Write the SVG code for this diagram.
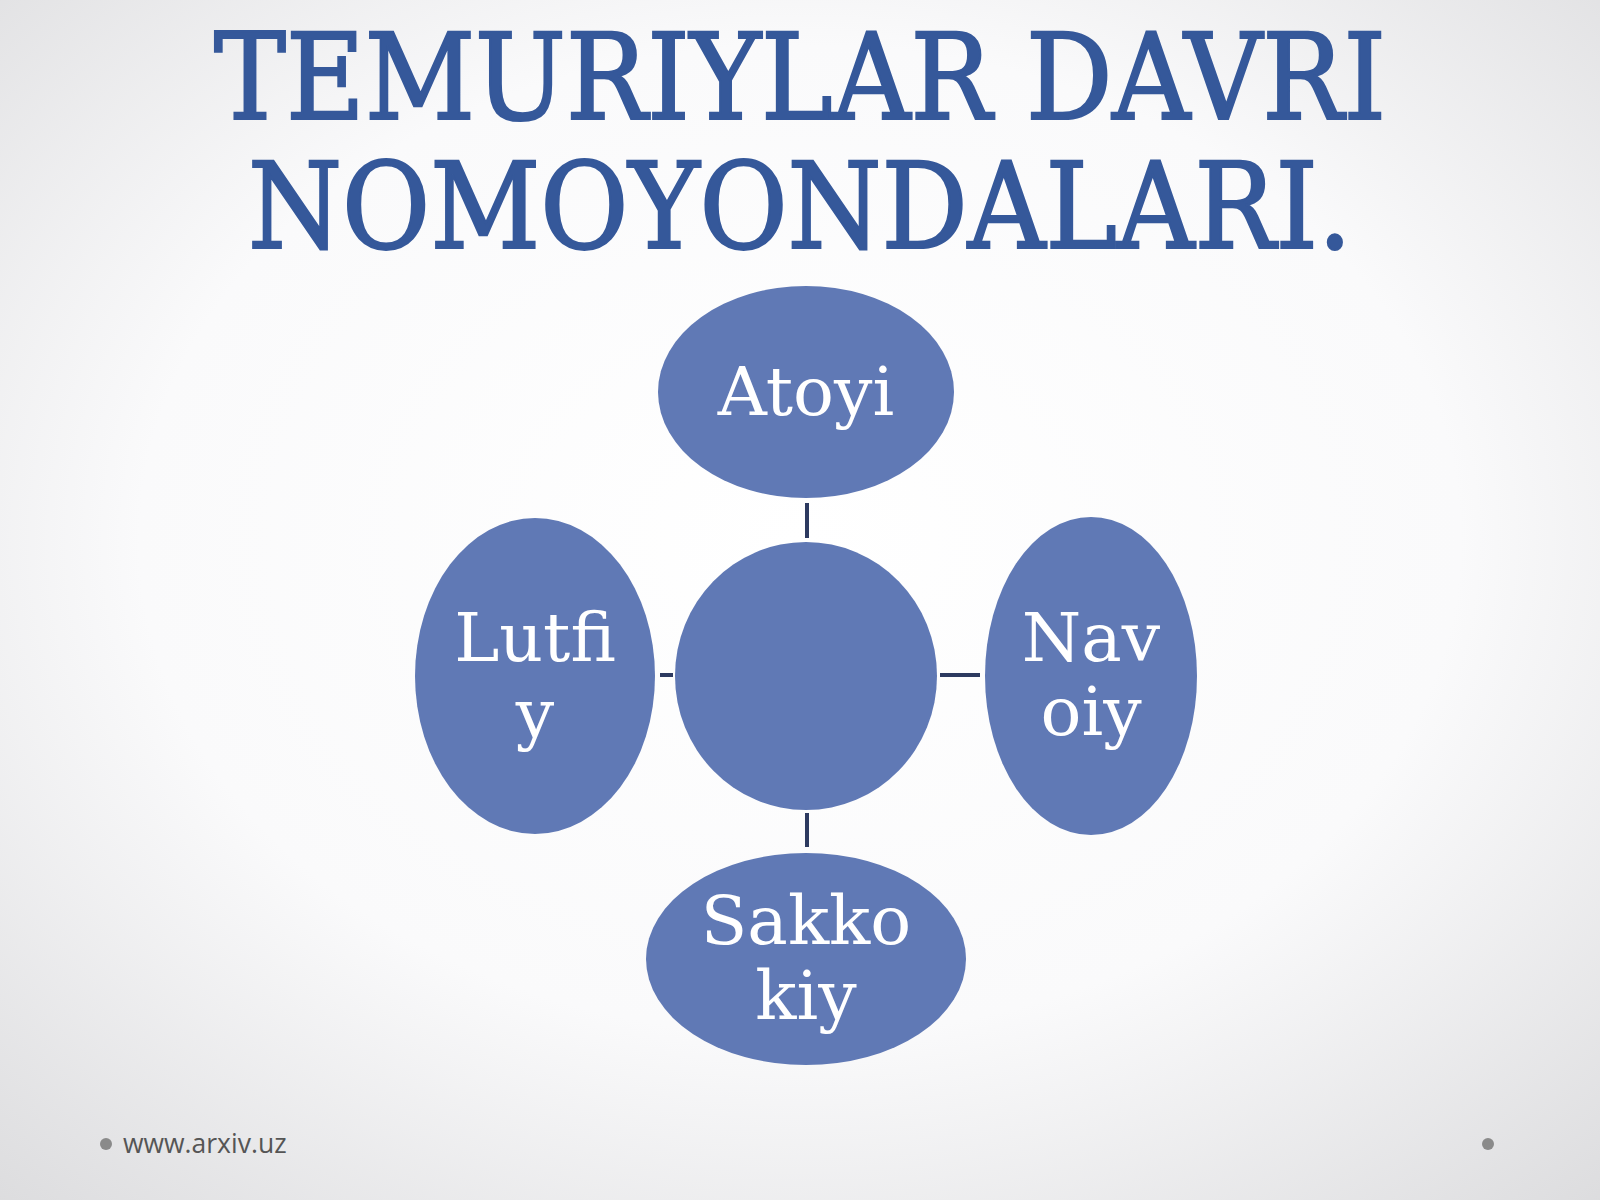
<svg xmlns="http://www.w3.org/2000/svg" width="1600" height="1200" viewBox="0 0 1600 1200">
<defs>
<radialGradient id="bg" cx="0.5" cy="0.45" r="0.75">
<stop offset="0" stop-color="#ffffff"/>
<stop offset="0.55" stop-color="#fafafb"/>
<stop offset="1" stop-color="#dcdcde"/>
</radialGradient>
<style>
.title{font-family:"DejaVu Serif Condensed","DejaVu Serif",serif;font-size:119px;fill:#35589a;stroke:#35589a;stroke-width:2.2;text-anchor:middle}
.node{fill:#6079b5}
.lbl{font-family:"DejaVu Serif",serif;font-size:68px;fill:#ffffff;text-anchor:middle}
.conn{stroke:#2d3a60;stroke-width:4;fill:none}
.foot{font-family:"Open Sans",sans-serif;font-size:26.5px;fill:#555555}
.dot{fill:#8a8a8a}
</style>
</defs>
<rect width="1600" height="1200" fill="url(#bg)"/>
<g id="title">
<text class="title" x="800" y="119" textLength="1172" lengthAdjust="spacingAndGlyphs">TEMURIYLAR DAVRI</text>
<text class="title" x="800" y="248" textLength="1104" lengthAdjust="spacingAndGlyphs">NOMOYONDALARI.</text>
</g>
<g id="connectors">
<line class="conn" x1="807" y1="503" x2="807" y2="538"/>
<line class="conn" x1="807" y1="813" x2="807" y2="847"/>
<line class="conn" x1="660" y1="675" x2="673" y2="675"/>
<line class="conn" x1="940" y1="675" x2="980" y2="675"/>
</g>
<g id="node-center">
<ellipse class="node" cx="806" cy="676" rx="131" ry="134"/>
</g>
<g id="node-atoyi">
<ellipse class="node" cx="806" cy="392" rx="148" ry="106"/>
<text class="lbl" x="806" y="415">Atoyi</text>
</g>
<g id="node-lutfiy">
<ellipse class="node" cx="535" cy="676" rx="120" ry="158"/>
<text class="lbl" x="535" y="661">Lutfi</text>
<text class="lbl" x="535" y="737">y</text>
</g>
<g id="node-navoiy">
<ellipse class="node" cx="1091" cy="676" rx="106" ry="159"/>
<text class="lbl" x="1091" y="661">Nav</text>
<text class="lbl" x="1091" y="735">oiy</text>
</g>
<g id="node-sakkokiy">
<ellipse class="node" cx="806" cy="959" rx="160" ry="106"/>
<text class="lbl" x="806" y="944">Sakko</text>
<text class="lbl" x="806" y="1019">kiy</text>
</g>
<g id="footer">
<circle class="dot" cx="106" cy="1144" r="6"/>
<text class="foot" x="123" y="1153">www.arxiv.uz</text>
<circle class="dot" cx="1488" cy="1144" r="6"/>
</g>
</svg>
